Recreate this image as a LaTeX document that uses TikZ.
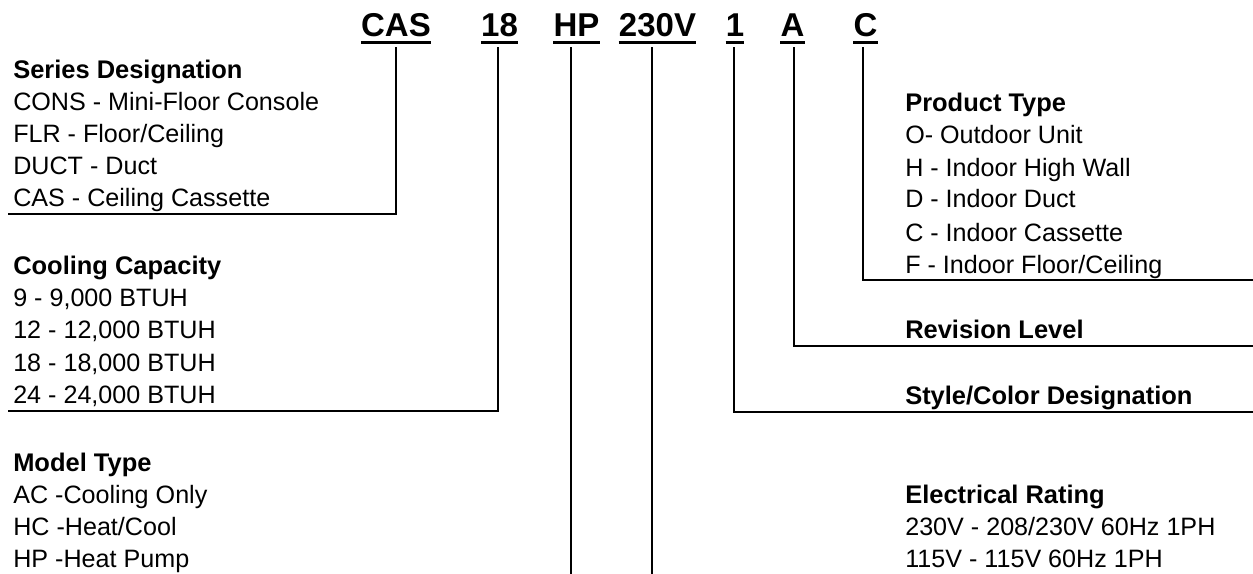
\documentclass[tikz,border=0pt]{standalone}
\usepackage{fontspec}
\setmainfont{Liberation Sans}
\begin{document}
\begin{tikzpicture}[x=0.75pt,y=-0.75pt,
  txt/.style={anchor=base west,inner sep=0pt,font=\fontsize{18.85}{22}\selectfont},
  hdr/.style={txt,font=\fontsize{19.1}{22}\selectfont\bfseries},
  code/.style={anchor=base,inner sep=0pt,font=\fontsize{24.75}{28}\selectfont\bfseries},
  uline/.style={line width=2.3pt},
  conn/.style={line width=1.6pt,line cap=rect}]
\useasboundingbox (0,0) rectangle (1253,574);

% codes
\node[code] (cCAS) at (396,37) {CAS};
\node[code] (c18) at (499.5,37) {18};
\node[code] (cHP) at (576.5,37) {HP};
\node[code] (cV) at (657.5,37) {230V};
\node[code] (c1) at (735,37) {1};
\node[code] (cA) at (792.5,37) {A};
\node[code] (cC) at (865.5,37) {C};
\foreach \n in {cCAS,c18,cHP,cV,c1,cA,cC}
  \draw[uline] ([yshift=-4.4pt]\n.base west) -- ([yshift=-4.4pt]\n.base east);

% left column
\node[hdr] (hSeries) at (13,79) {Series Designation};
\node[txt] at (13,111) {CONS - Mini-Floor Console};
\node[txt] at (13,143) {FLR - Floor/Ceiling};
\node[txt] at (13,175) {DUCT - Duct};
\node[txt] at (13,207) {CAS - Ceiling Cassette};

\node[hdr] (hCool) at (13,274) {Cooling Capacity};
\node[txt] at (13,306) {9 - 9,000 BTUH};
\node[txt] at (13,338) {12 - 12,000 BTUH};
\node[txt] at (13,371) {18 - 18,000 BTUH};
\node[txt] at (13,403) {24 - 24,000 BTUH};

\node[hdr] (hModel) at (13,471) {Model Type};
\node[txt] at (13,503) {AC -Cooling Only};
\node[txt] at (13,535) {HC -Heat/Cool};
\node[txt] at (13,567) {HP -Heat Pump};

% right column
\node[hdr] (hProd) at (905,112) {Product Type};
\node[txt] at (905,144) {O- Outdoor Unit};
\node[txt] at (905,176) {H - Indoor High Wall};
\node[txt] at (905,208) {D - Indoor Duct};
\node[txt] at (905,241) {C - Indoor Cassette};
\node[txt] at (905,273) {F - Indoor Floor/Ceiling};

\node[hdr] (hRev) at (905,338) {Revision Level};
\node[hdr] (hStyle) at (905,404) {Style/Color Designation};

\node[hdr] (hElec) at (905,503) {Electrical Rating};
\node[txt] at (905,535) {230V - 208/230V 60Hz 1PH};
\node[txt] at (905,567) {115V - 115V 60Hz 1PH};

% connector ends
\coordinate (eCAS) at (9,214);
\coordinate (e18) at (9,411);
\coordinate (eHP) at (571,576);
\coordinate (eV) at (652,576);
\coordinate (e1) at (1255,412);
\coordinate (eA) at (1255,346);
\coordinate (eC) at (1255,280);

\draw[conn] ([yshift=-8pt]cCAS.base) |- (eCAS);
\draw[conn] ([yshift=-8pt,xshift=-1pt]c18.base) |- (e18);
\draw[conn] ([yshift=-8pt]cHP.base -| eHP) -- (eHP);
\draw[conn] ([yshift=-8pt]cV.base -| eV) -- (eV);
\draw[conn] ([yshift=-8pt,xshift=-1pt]c1.base) |- (e1);
\draw[conn] ([yshift=-8pt,xshift=1pt]cA.base) |- (eA);
\draw[conn] ([yshift=-8pt,xshift=-2pt]cC.base) |- (eC);
\end{tikzpicture}
\end{document}
